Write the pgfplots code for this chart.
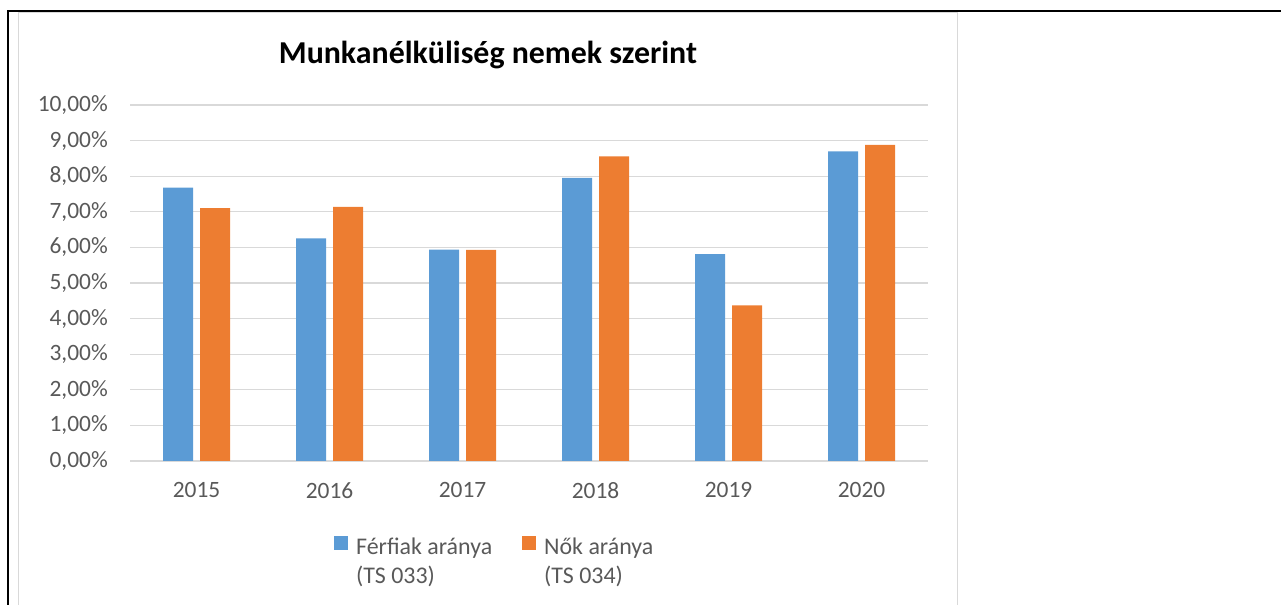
\documentclass[border=0pt]{standalone}
\usepackage{pgfplots}
\pgfplotsset{compat=1.18}
\usepackage{fontspec}
\setmainfont{Carlito}
\definecolor{serblue}{HTML}{5B9BD5}
\definecolor{serorange}{HTML}{ED7D31}
\definecolor{txtgray}{HTML}{595959}
\definecolor{gridgray}{HTML}{D9D9D9}
\begin{document}
\begin{tikzpicture}[x=1bp,y=1bp]
\useasboundingbox (0,0) rectangle (1281,605);
% cell border and chart frame
\draw[gridgray, line width=1.5bp] (18.5,0) -- (18.5,593) -- (957.5,593) -- (957.5,0);
\draw[black, line width=2bp] (1281,594) -- (8,594) -- (8,0);
\begin{axis}[
    at={(130bp,144bp)}, anchor=south west,
    scale only axis,
    width=798bp, height=356bp,
    xmin=-0.5, xmax=5.5,
    ymin=0, ymax=10,
    ybar=7bp, bar width=30bp,
    xtick=data,
    xticklabels={2015,2016,2017,2018,2019,2020},
    ytick={0,1,...,10},
    yticklabel={\pgfmathprintnumber[fixed,fixed zerofill,precision=2,use comma]{\tick}\%},
    /pgf/number format/assume math mode=true,
    major tick length=0pt,
    axis line style={draw=none},
    ymajorgrids=true,
    grid style={gridgray, line width=1.2bp},
    tick label style={font=\fontsize{23.5}{28}\selectfont, text=txtgray},
    yticklabel style={inner sep=0pt, xshift=-22bp},
    xticklabel style={inner sep=0pt, yshift=-21bp},
    title={Munkanélküliség nemek szerint},
    title style={at={(0.4486,1.1),}, anchor=base, inner sep=0pt, font=\fontsize{32}{37}\selectfont\bfseries},
    legend columns=2,
    legend style={at={(0.2556,-0.2)}, anchor=north west, draw=none, inner sep=0pt,
        font=\fontsize{24}{29}\selectfont, text=txtgray,
        /tikz/every odd column/.append style={column sep=6bp},
        /tikz/every even column/.append style={column sep=28bp}},
    legend image code/.code={\fill[#1, draw=none] (0bp,-5bp) rectangle (14bp,9bp);},
]
\addplot[fill=serblue, draw=none] coordinates {
    (0,7.68) (1,6.25) (2,5.94) (3,7.95) (4,5.81) (5,8.70)
};
\addlegendentry{\begin{tabular}[t]{@{}l@{}}Férfiak aránya\\(TS 033)\end{tabular}}
\addplot[fill=serorange, draw=none] coordinates {
    (0,7.10) (1,7.14) (2,5.93) (3,8.56) (4,4.37) (5,8.88)
};
\addlegendentry{\begin{tabular}[t]{@{}l@{}}Nők aránya\\(TS 034)\end{tabular}}
\end{axis}
\end{tikzpicture}
\end{document}
